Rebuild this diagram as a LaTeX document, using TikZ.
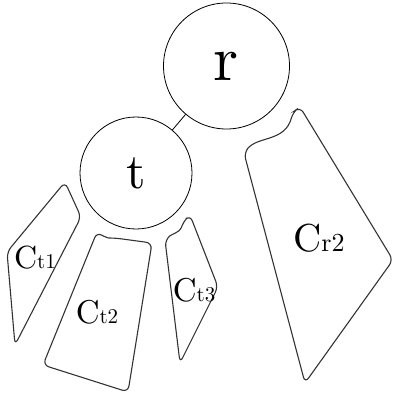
\documentclass[tikz,border=0pt]{standalone}
\usepackage{graphicx}
\newcommand{\bigtxt}[2]{\scalebox{#1}{\fontsize{10}{12}\selectfont #2}}
\begin{document}
\begin{tikzpicture}[x=1pt,y=-1pt,
  vert/.style={circle,draw,line width=0.8pt,minimum size=#1,inner sep=0pt},
  region/.style={draw=black!80,line width=1.1pt,rounded corners=6pt},
  lbl/.style={inner sep=0pt}]
\useasboundingbox (0,0) rectangle (394,403);
\node[vert=126pt] (r) at (226.5,66) {\bigtxt{6.4}{r}};
\node[vert=112pt] (t) at (136,173) {\bigtxt{5}{t}};
\draw[line width=0.8pt] (r) -- (t);
% C_t1
\draw[region] (65,182) -- (81,217) -- (15,345) -- (7,252) -- cycle;
\node[lbl] (ct1) at (35,258) {\bigtxt{3.2}{C}\bigtxt{2.1}{t1}};
% C_t2
\draw[region] (97,232) .. controls (103,236) and (108,238) .. (115,238) -- (152,243) -- (128,392) -- (43,365) -- cycle;
\node[lbl] (ct2) at (97,312) {\bigtxt{3.3}{C}\bigtxt{2.1}{t2}};
% C_t3
\draw[region] (190,215) -- (218,287) -- (180,363) -- (165,240) .. controls (172,234) and (180,232) .. (183,222) -- cycle;
\node[lbl] (ct3) at (194,290) {\bigtxt{3.3}{C}\bigtxt{2.1}{t3}};
% C_r2
\draw[region] (300,107) -- (393,260) -- (305,383) -- (244,153) .. controls (258,136) and (285,142) .. (293,112) -- cycle;
\node[lbl] (cr2) at (319,238) {\bigtxt{3.9}{C}\bigtxt{2.6}{r2}};
\end{tikzpicture}
\end{document}
